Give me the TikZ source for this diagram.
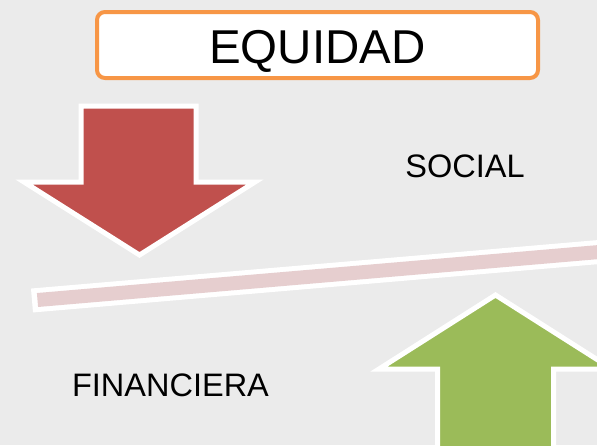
\documentclass[tikz,border=0pt]{standalone}
\usepackage{fontspec}
\setmainfont{Liberation Sans}
\definecolor{bg}{RGB}{235,235,235}
\definecolor{boxorange}{RGB}{247,150,70}
\definecolor{arrowred}{RGB}{192,80,77}
\definecolor{arrowgreen}{RGB}{155,187,89}
\definecolor{barpink}{RGB}{230,206,207}
\tikzset{
  bigarrow/.style={draw=white, line width=5pt, miter limit=12},
  lbl/.style={inner sep=0pt, anchor=base, font=\fontsize{32.5}{34}\selectfont},
}
\begin{document}
\begin{tikzpicture}[x=1pt,y=-1pt]
\fill[bg] (0,0) rectangle (597,445);
\useasboundingbox (0,0) rectangle (597,445);
% title box
\node[draw=boxorange, line width=4pt, fill=white, rounded corners=8pt,
      minimum width=441pt, minimum height=66pt, inner sep=0pt,
      text height=36pt, text depth=0pt,
      font=\fontsize{47.5}{50}\selectfont] (title) at (317.5,45) {EQUIDAD};
% red down arrow
\fill[arrowred, bigarrow] (81,106) -- (196,106) -- (196,182) -- (255,182)
  -- (139.5,255) -- (24,182) -- (81,182) -- cycle;
% tilted bar
\coordinate (barL) at (32,300.5);
\coordinate (barR) at (605,251.5);
\coordinate (barLi) at (37.5,300);
\draw[white, line width=24pt] (barL) -- (barR);
\draw[barpink, line width=14pt] (barLi) -- (barR);
% green up arrow
\fill[arrowgreen, bigarrow] (437.5,455) -- (437.5,369) -- (379,369)
  -- (495.5,295) -- (612,369) -- (553.5,369) -- (553.5,455) -- cycle;
% labels
\node[lbl] (social) at (465,177.3) {SOCIAL};
\node[lbl] (financiera) at (170.5,396.7) {FINANCIERA};
\end{tikzpicture}
\end{document}
